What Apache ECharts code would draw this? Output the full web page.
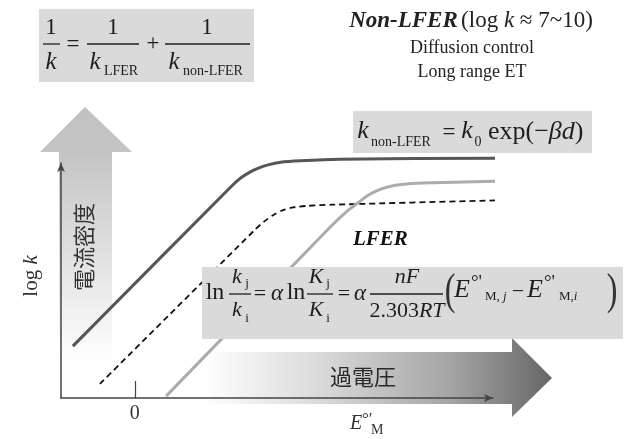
<!DOCTYPE html>
<html>
<head>
<meta charset="utf-8">
<script src="https://cdn.jsdelivr.net/npm/echarts@6/dist/echarts.min.js"></script>
<style>html,body{margin:0;padding:0;background:#fff}#c{width:626px;height:439px}</style>
</head>
<body>
<div id="c"></div>
<script>
// ---- data (conceptual curves) ----
const darkCurve = [[-1.72,1.37],[2.7,5.6],[2.95,5.81],[3.2,5.96],[3.45,6.07],[3.7,6.15],[4.05,6.22],[4.6,6.26],[5.7,6.3],[10.48,6.33]];
const dashedCurve = [[-0.97,0.37],[3.35,4.45],[3.6,4.66],[3.85,4.83],[4.1,4.95],[4.4,5.03],[4.8,5.07],[5.5,5.1],[10.28,5.22]];
const grayCurve = [[0.87,0.05],[5.45,4.53],[5.7,4.76],[5.95,4.97],[6.2,5.15],[6.45,5.33],[6.7,5.46],[7.0,5.56],[7.4,5.63],[8.0,5.67],[10.48,5.73]];
const xTickValues = [0];
const xTickLabels = ['0'];
const xRange = [-2.05, 9.95];
const yRange = [0, 6.2];

const SERIF = '"Liberation Serif","Times New Roman",serif';
const CJK = '"Noto Sans CJK JP","Noto Sans CJK SC",sans-serif';
const INK = '#1e1e1e';

function txt(x, y, s, size, o, extra) {
  return Object.assign({type:'text', x:x, y:y, z:50, silent:true,
    style:Object.assign({text:s, fontFamily:SERIF, fontSize:size, fill:INK, align:'center', verticalAlign:'middle'}, o||{})}, extra||{});
}
function it(x, y, s, size, o) { return txt(x, y, s, size, Object.assign({fontStyle:'italic'}, o||{})); }
function bar(x1, x2, y) {
  return {type:'line', z:50, silent:true, shape:{x1:x1, y1:y, x2:x2, y2:y}, style:{stroke:INK, lineWidth:1.3}};
}
function box(x, y, w, h) {
  return {type:'rect', z:40, silent:true, shape:{x:x, y:y, width:w, height:h}, style:{fill:'#dadada'}};
}
function rich(x, y, s, size, align, color) {
  return {type:'text', x:x, y:y, z:50, silent:true,
   style:{text:s, align:align, verticalAlign:'middle',
     rich:{r:{fontFamily:SERIF, fontSize:size, fill:color||INK},
           i:{fontFamily:SERIF, fontSize:size, fontStyle:'italic', fill:color||INK},
           b:{fontFamily:SERIF, fontSize:size, fontStyle:'italic', fontWeight:'bold', fill:color||INK}}}};
}

const G = echarts.graphic;
const elements = [
  // big vertical arrow (current density)
  {type:'polygon', z:-5, silent:true,
   shape:{points:[[85,107],[132,152],[112,152],[112,362],[59,362],[59,152],[40,152]]},
   style:{fill:new G.LinearGradient(0,0,0,1,[{offset:0,color:'#c1c1c1'},{offset:0.18,color:'#c4c4c4'},{offset:1,color:'#ffffff'}])}},
  {type:'text', x:84, y:247, rotation:Math.PI/2, z:-4, silent:true,
   style:{text:'電流密度', fontFamily:CJK, fontSize:22, fill:'#333', align:'center', verticalAlign:'middle'}},
  // big horizontal arrow (overpotential)
  {type:'polygon', z:-5, silent:true,
   shape:{points:[[203,352],[512,352],[512,338],[552,378],[512,417],[512,404],[203,404]]},
   style:{fill:new G.LinearGradient(0,0,1,0,[{offset:0,color:'#ffffff'},{offset:0.35,color:'#d8d8d8'},{offset:0.7,color:'#a6a6a6'},{offset:1,color:'#666666'}])}},
  {type:'text', x:363, y:377, z:-4, silent:true,
   style:{text:'過電圧', fontFamily:CJK, fontSize:22, fill:'#2a2a2a', align:'center', verticalAlign:'middle'}},

  // axis names
  Object.assign(rich(31, 276, '{r|log }{i|k}', 21, 'center', '#333'), {rotation:Math.PI/2}),
  it(356, 424, 'E', 20, {fill:'#333'}),
  txt(362, 420, '°\u2032', 17, {fill:'#333', align:'left'}),
  txt(371, 430, 'M', 14, {fill:'#333', align:'left'}),

  // formula 1
  box(39, 9, 215, 73),
  txt(51, 28, '1', 23), bar(43, 60, 44), it(51, 62, 'k', 25),
  txt(73, 45, '=', 23),
  txt(113, 28, '1', 23), bar(87, 139, 44), it(95, 62, 'k', 25), txt(121, 71, 'LFER', 14),
  txt(153, 44, '+', 23),
  txt(207, 28, '1', 23), bar(165, 250, 44), it(174, 62, 'k', 25), txt(213, 71, 'non-LFER', 14),

  // Non-LFER header
  rich(471, 21, '{b|Non-LFER} {r|(log }{i|k}{r| ≈ 7~10)}', 23, 'center', '#222'),
  txt(472, 48, 'Diffusion control', 18, {fill:'#222'}),
  txt(472, 72, 'Long range ET', 18, {fill:'#222'}),

  // formula 2
  box(353, 111, 239, 42),
  it(363, 131, 'k', 26), txt(401, 142, 'non-LFER', 14),
  txt(449, 133, '=', 23),
  it(467, 131, 'k', 26), txt(478, 142, '0', 14),
  rich(488, 132, '{r|exp(−}{i|βd}{r|)}', 26, 'left'),

  // LFER label
  txt(353, 240, 'LFER', 21, {fontWeight:'bold', fontStyle:'italic', align:'left', fill:'#111'}),

  // formula 3
  box(202, 267, 421, 72),
  txt(215, 293, 'ln', 24),
  bar(229, 251, 294), it(237, 277, 'k', 22), txt(247, 284, 'j', 13), it(237, 310, 'k', 22), txt(247, 319, 'i', 13),
  txt(260, 294, '=', 22),
  it(277, 294, 'α', 23),
  txt(296, 293, 'ln', 24),
  bar(307, 333, 294), it(316, 277, 'K', 22), txt(328, 284, 'j', 13), it(316, 310, 'K', 22), txt(328, 319, 'i', 13),
  txt(344, 294, '=', 22),
  it(360, 294, 'α', 23),
  bar(370, 443, 294), it(407, 277, 'nF', 22),
  rich(407, 311, '{r|2.303}{i|RT}', 22, 'center'),
  txt(450, 292, '(', 32, {fill:'#333'}, {scaleY:1.4}),
  it(462, 290, 'E', 26), txt(471, 283, '°\'', 19, {align:'left'}),
  rich(485, 297, '{r|M, }{i|j}', 13, 'left'),
  txt(518, 292, '−', 22),
  it(535, 290, 'E', 26), txt(544, 283, '°\'', 19, {align:'left'}),
  rich(559, 297, '{r|M,}{i|i}', 13, 'left'),
  txt(612, 292, ')', 32, {fill:'#333'}, {scaleY:1.4})
];

const chart = echarts.init(document.getElementById('c'), null, {renderer:'canvas'});
chart.setOption({
  animation:false,
  backgroundColor:'#ffffff',
  grid:{left:61, top:163, right:133, bottom:41, outerBoundsMode:'none'},
  xAxis:{type:'value', min:xRange[0], max:xRange[1],
    axisLine:{show:true, onZero:false, symbol:['none','arrow'], symbolSize:[6,9], lineStyle:{color:'#444', width:1.5}},
    axisTick:{show:true, inside:true, length:17, customValues:xTickValues, lineStyle:{color:'#444', width:1.2}},
    axisLabel:{show:true, customValues:xTickValues, formatter:function(v){ const i = xTickValues.indexOf(v); return i>=0 ? xTickLabels[i] : ''; },
      fontFamily:SERIF, fontSize:20, color:'#333', margin:6},
    splitLine:{show:false}},
  yAxis:{type:'value', min:yRange[0], max:yRange[1],
    axisLine:{show:true, onZero:false, symbol:['none','arrow'], symbolSize:[6,9], lineStyle:{color:'#444', width:1.5}},
    axisTick:{show:false}, axisLabel:{show:false}, splitLine:{show:false}},
  series:[
    {name:'total', type:'line', data:darkCurve, smooth:0.3, showSymbol:false, clip:false, silent:true,
     lineStyle:{color:'#565656', width:3}, z:3},
    {name:'LFER', type:'line', data:dashedCurve, smooth:0.25, showSymbol:false, clip:false, silent:true,
     lineStyle:{color:'#111111', width:1.8, type:[6,4]}, z:3},
    {name:'slow', type:'line', data:grayCurve, smooth:0.25, showSymbol:false, clip:false, silent:true,
     lineStyle:{color:'#acacac', width:3}, z:3}
  ],
  graphic:{elements:elements}
});
</script>
</body>
</html>
